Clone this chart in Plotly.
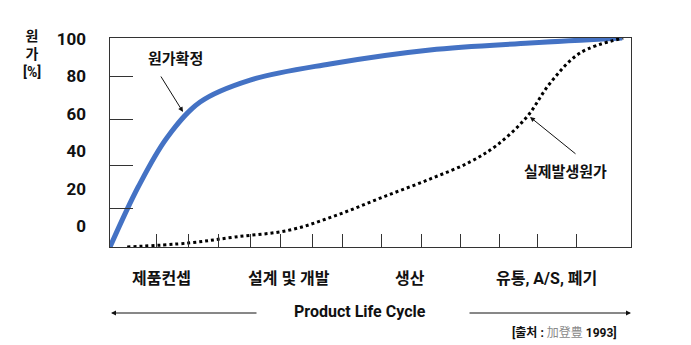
import plotly.graph_objects as go

# ---- data (x: product life cycle position 0-100, y: cost %) ----
fixed_x = [0, 5.4, 10.9, 17.3, 26.9, 42.2, 61.4, 80.6, 98.3]
fixed_y = [0, 28.7, 52.2, 69.4, 79.9, 87.6, 94.3, 97.6, 100]

actual_x = [3.3, 15.0, 24.0, 34.5, 43.6, 52.4, 61.4, 69.1, 74.3, 80.0, 84.5, 90.2, 98.5]
actual_y = [0, 1.9, 4.8, 8.1, 15.3, 23.9, 32.5, 40.7, 48.8, 62.2, 78.5, 92.8, 100]

y_tick_labels = [0, 20, 40, 60, 80, 100]
y_tick_marks = [18.2, 39.2, 60.8, 81.8]
x_tick_marks = [9.0, 15.0, 20.9, 26.9, 32.8, 38.8, 44.7, 52.2, 59.7, 67.2, 74.7, 82.1, 89.6]

stages = ["제품컨셉", "설계 및 개발", "생산", "유통, A/S, 폐기"]
stage_pos = [9.8, 34.4, 57.6, 83.7]

FONT = "Roboto, Noto Sans CJK KR, sans-serif"
KFONT = "Noto Sans CJK KR, sans-serif"

fig = go.Figure()
fig.add_trace(go.Scatter(x=fixed_x, y=fixed_y, mode="lines",
                         line=dict(color="#4472C4", width=5, shape="spline", smoothing=1.0),
                         hoverinfo="skip", showlegend=False))
fig.add_trace(go.Scatter(x=actual_x, y=actual_y, mode="lines",
                         line=dict(color="#000000", width=3, dash="3px,3px", shape="spline", smoothing=1.0),
                         hoverinfo="skip", showlegend=False))
# invisible trace for the label axis
fig.add_trace(go.Scatter(x=[None], y=[None], yaxis="y2", showlegend=False, hoverinfo="skip"))

fig.update_layout(
    width=691, height=345,
    margin=dict(l=110, r=60, t=38, b=98),
    paper_bgcolor="white", plot_bgcolor="white",
    xaxis=dict(range=[0, 100], showgrid=False, zeroline=False, showline=True, linecolor="#333", linewidth=1, mirror=True,
               tickvals=x_tick_marks, ticks="inside", ticklen=13, tickcolor="#333", tickwidth=1, showticklabels=False),
    yaxis=dict(range=[0, 100], showgrid=False, zeroline=False, showline=True, linecolor="#333", linewidth=1, mirror=True,
               tickvals=y_tick_marks, ticks="inside", ticklen=23, tickcolor="#333", tickwidth=1, showticklabels=False),
    yaxis2=dict(range=[-11.1, 100.3], overlaying="y", side="left", showgrid=False, zeroline=False, showline=False,
                tickvals=y_tick_labels, ticktext=["<b>%d</b>" % v for v in y_tick_labels], ticks="",
                ticklabelstandoff=23, tickfont=dict(family=FONT, size=17, color="#111")),
)

H = 345
plot_h = 209


def py(px):
    return (H - 98 - px) / plot_h  # paper y from pixel row


annots = []
annots.append(dict(x=-0.149, y=py(54), xref="paper", yref="paper", text="<b>원<br>가<br>[%]</b>", showarrow=False,
                   font=dict(family=FONT, size=14, color="#111"), xanchor="center", yanchor="middle", align="center"))
for s, p in zip(stages, stage_pos):
    annots.append(dict(x=p, y=py(278), xref="x", yref="paper", text="<b>" + s + "</b>", showarrow=False,
                       font=dict(family=FONT, size=16, color="#111"), xanchor="center", yanchor="middle"))
annots.append(dict(x=(360 - 110) / 521, y=py(311), xref="paper", yref="paper", text="<b>Product Life Cycle</b>",
                   showarrow=False, font=dict(family=FONT, size=16, color="#111"), xanchor="center", yanchor="middle"))
# bottom arrows
annots.append(dict(x=(111 - 110) / 521, y=py(313), xref="paper", yref="paper", ax=147, ay=0, text="",
                   showarrow=True, arrowhead=2, arrowsize=1, arrowwidth=1, arrowcolor="#111"))
annots.append(dict(x=(631 - 110) / 521, y=py(313), xref="paper", yref="paper", ax=-163, ay=0, text="",
                   showarrow=True, arrowhead=2, arrowsize=1, arrowwidth=1, arrowcolor="#111"))
# source
annots.append(dict(x=(619 - 110) / 521, y=py(331), xref="paper", yref="paper",
                   text="<b>[출처 : </b><span style='color:#8a8a8a;font-family:Noto Sans CJK JP'>加登豊</span><b> 1993]</b>",
                   showarrow=False, font=dict(family=FONT, size=12, color="#111"), xanchor="right", yanchor="middle"))
# curve labels
annots.append(dict(x=(175 - 110) / 5.21, y=(247 - 57) / 2.09, xref="x", yref="y", text="<b>원가확정</b>", showarrow=False,
                   font=dict(family=KFONT, size=15, color="#111"), xanchor="center", yanchor="middle"))
annots.append(dict(x=(565 - 110) / 5.21, y=(247 - 170) / 2.09, xref="x", yref="y", text="<b>실제발생원가</b>", showarrow=False,
                   font=dict(family=KFONT, size=15, color="#111"), xanchor="center", yanchor="middle"))
# pointer arrows
annots.append(dict(x=(183 - 110) / 5.21, y=(247 - 112) / 2.09, xref="x", yref="y", ax=-23, ay=-37, text="",
                   showarrow=True, arrowhead=2, arrowsize=1, arrowwidth=1, arrowcolor="#111"))
annots.append(dict(x=(530 - 110) / 5.21, y=(247 - 117) / 2.09, xref="x", yref="y", ax=47, ay=38, text="",
                   showarrow=True, arrowhead=2, arrowsize=1, arrowwidth=1, arrowcolor="#111"))

fig.update_layout(annotations=annots)
fig.write_html("out.html")
